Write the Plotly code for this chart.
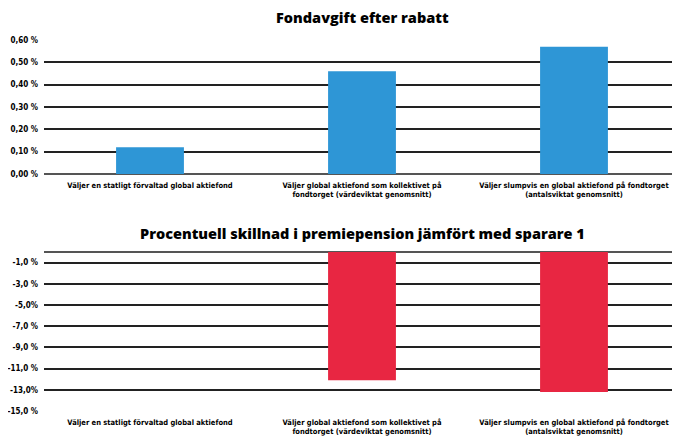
import plotly.graph_objects as go
from plotly.subplots import make_subplots

categories = [
    "Väljer en statligt förvaltad global aktiefond",
    "Väljer global aktiefond som kollektivet på<br>fondtorget (värdeviktat genomsnitt)",
    "Väljer slumpvis en global aktiefond på fondtorget<br>(antalsviktat genomsnitt)",
]
fee_values = [0.12, 0.46, 0.57]
fee_ticks = [0.0, 0.1, 0.2, 0.3, 0.4, 0.5, 0.6]
fee_ticktext = ["0,00 %", "0,10 %", "0,20 %", "0,30 %", "0,40 %", "0,50 %", "0,60 %"]

diff_values = [0.0, -12.1, -13.2]
diff_ticks = [-1, -3, -5, -7, -9, -11, -13, -15]
diff_ticktext = ["-1,0 %", "-3,0 %", "-5,0%", "-7,0 %", "-9,0 %", "-11,0 %", "-13,0%", "-15,0 %"]

title_font = dict(family="Open Sans", size=14.5, color="black", weight=800)
xtick_font = dict(family="DejaVu Sans Condensed", size=7.5, color="black", weight="bold")
ytick_font = dict(family="DejaVu Sans Condensed", size=8, color="black", weight="bold")

H = 440

fig = make_subplots(rows=2, cols=1)

fig.add_trace(go.Bar(x=categories, y=fee_values, marker_color="#2E96D6",
                     marker_line_width=0, width=0.32, showlegend=False), row=1, col=1)
fig.add_trace(go.Bar(x=categories, y=diff_values, marker_color="#E82642",
                     marker_line_width=0, width=0.32, showlegend=False), row=2, col=1)

fig.update_xaxes(tickfont=xtick_font, showgrid=False, ticks="", automargin=False,
                 domain=[0, 1], ticklabelstandoff=5)

fig.update_yaxes(row=1, col=1, domain=[1 - 166 / H, 1 - 32 / H],
                 range=[0, 0.6], tickvals=fee_ticks, ticktext=fee_ticktext)
fig.update_yaxes(row=2, col=1, domain=[1 - 403 / H, 1 - 244 / H],
                 range=[-15, 0], tickvals=diff_ticks, ticktext=diff_ticktext)
fig.update_yaxes(tickfont=ytick_font, showgrid=True, gridcolor="#222", gridwidth=1.5,
                 showline=False, zeroline=True, zerolinecolor="#555", zerolinewidth=2,
                 ticks="", automargin=False, ticklabelstandoff=5)

fig.add_annotation(text="Fondavgift efter rabatt", x=0.5, y=1 - 9 / H,
                   xref="paper", yref="paper", yanchor="middle",
                   showarrow=False, font=title_font)
fig.add_annotation(text="Procentuell skillnad i premiepension jämfört med sparare 1",
                   x=0.5, y=1 - 225 / H, xref="paper", yref="paper", yanchor="middle",
                   showarrow=False, font=title_font)

fig.update_layout(
    width=680, height=H,
    margin=dict(l=36, r=8, t=0, b=0),
    plot_bgcolor="white", paper_bgcolor="white",
)

fig.write_html("out.html")
